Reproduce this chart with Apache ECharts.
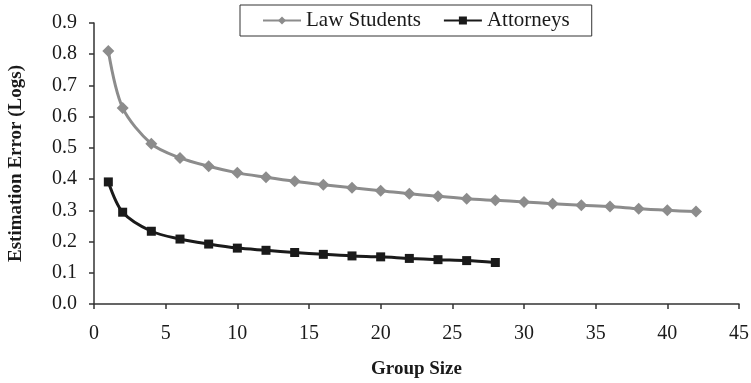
<!DOCTYPE html>
<html><head><meta charset="utf-8">
<script src="https://cdn.jsdelivr.net/npm/echarts@6/dist/echarts.min.js"></script>
<style>html,body{margin:0;padding:0;background:#fff}#c{width:751px;height:383px}</style>
</head><body><div id="c"></div>
<script>
const lawX = [1,2,4,6,8,10,12,14,16,18,20,22,24,26,28,30,32,34,36,38,40,42];
const lawY = [0.81,0.628,0.513,0.468,0.441,0.420,0.406,0.393,0.382,0.372,0.363,0.353,0.345,0.337,0.332,0.327,0.321,0.316,0.312,0.305,0.300,0.296];
const attX = [1,2,4,6,8,10,12,14,16,18,20,22,24,26,28];
const attY = [0.391,0.294,0.233,0.208,0.192,0.179,0.172,0.165,0.159,0.154,0.151,0.146,0.142,0.139,0.133];
const seriesNames = ['Law Students','Attorneys'];
const xTitle = 'Group Size';
const yTitle = 'Estimation Error (Logs)';

const font = 'Liberation Serif';
const chart = echarts.init(document.getElementById('c'));
const axisCommon = {
  axisLine:{show:true,lineStyle:{color:'#333',width:1.5}},
  axisTick:{show:true,length:5,lineStyle:{color:'#333',width:1.5}},
  splitLine:{show:false},
  axisLabel:{color:'#1a1a1a',fontFamily:font,fontSize:20},
  nameTextStyle:{color:'#1a1a1a',fontFamily:font,fontSize:19,fontWeight:'bold'}
};
chart.setOption({
  animation:false,
  grid:{left:94,right:12,top:23,bottom:79,outerBoundsMode:'none',containLabel:false},
  legend:{
    left:240, top:5,
    data:seriesNames,
    borderColor:'#333', borderWidth:1, padding:[5,22,5,22],
    itemWidth:38, itemHeight:10, itemGap:22,
    textStyle:{fontFamily:font,fontSize:21,color:'#1a1a1a'}
  },
  xAxis:Object.assign({}, axisCommon, {
    type:'value', min:0, max:45, interval:5,
    name:xTitle, nameLocation:'middle', nameGap:56,
    axisLabel:Object.assign({}, axisCommon.axisLabel, {margin:20})
  }),
  yAxis:Object.assign({}, axisCommon, {
    type:'value', min:0, max:0.9, interval:0.1,
    name:yTitle, nameLocation:'middle', nameGap:68,
    axisLabel:Object.assign({}, axisCommon.axisLabel, {margin:17, formatter:v=>v.toFixed(1)})
  }),
  series:[
    {name:seriesNames[0], type:'line', smooth:0.3,
     data:lawX.map((x,i)=>[x,lawY[i]]),
     symbol:'diamond', symbolSize:12,
     lineStyle:{color:'#8c8c8c',width:3},
     itemStyle:{color:'#8c8c8c'}},
    {name:seriesNames[1], type:'line', smooth:0.3,
     data:attX.map((x,i)=>[x,attY[i]]),
     symbol:'rect', symbolSize:9,
     lineStyle:{color:'#1a1a1a',width:3},
     itemStyle:{color:'#1a1a1a'}}
  ]
});
</script></body></html>
